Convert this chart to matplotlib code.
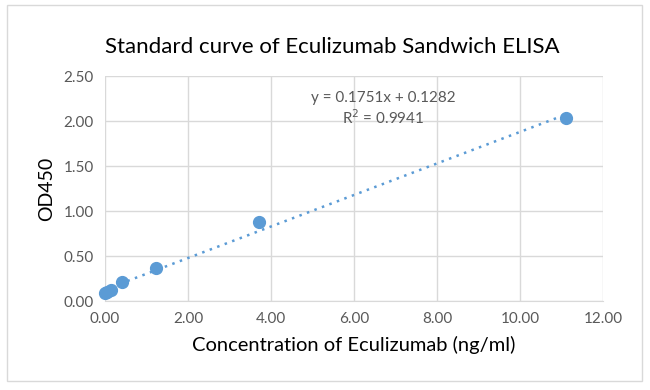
import matplotlib
matplotlib.use("Agg")
import matplotlib.pyplot as plt
from matplotlib.patches import Rectangle
import numpy as np

# standard curve data (3-fold dilutions)
conc = [11.11, 3.70, 1.23, 0.41, 0.137, 0.046, 0.0]
od450 = [2.03, 0.88, 0.37, 0.21, 0.12, 0.10, 0.09]
slope = 0.1751
intercept = 0.1282
r2 = 0.9941
xticks = [0, 2, 4, 6, 8, 10, 12]
yticks = [0, 0.5, 1.0, 1.5, 2.0, 2.5]

plt.rcParams['font.family'] = ['Lato', 'DejaVu Sans']
blue = '#5B9BD5'
grey = '#595959'

fig = plt.figure(figsize=(6.5, 3.9), dpi=100)
fig.patches.append(Rectangle((0.01, 0.022), 0.978, 0.966, transform=fig.transFigure,
                             fill=False, edgecolor='#d9d9d9', linewidth=1))
ax = fig.add_axes([0.1615, 0.228, 0.7662, 0.577])

xs = np.array([min(conc), max(conc)])
ax.plot(xs, slope * xs + intercept, linestyle=(0, (1, 2.2)), color=blue, linewidth=1.8, zorder=2)
ax.plot(conc, od450, 'o', color=blue, markersize=8.5, zorder=3, clip_on=False)

ax.set_xlim(0, 12)
ax.set_ylim(0, 2.5)
ax.set_xticks(xticks)
ax.set_yticks(yticks)
ax.set_xticklabels([f"{v:.2f}" for v in xticks])
ax.set_yticklabels([f"{v:.2f}" for v in yticks])
ax.tick_params(colors=grey, labelsize=11, length=0, pad=8)
ax.grid(True, color='#d9d9d9', linewidth=1)
ax.set_axisbelow(True)
for s in ['top', 'right', 'left']:
    ax.spines[s].set_visible(False)
ax.spines['bottom'].set_color('#d9d9d9')

ax.set_xlabel('Concentration of Eculizumab (ng/ml)', fontsize=14.5, color='black', labelpad=7)
ax.set_ylabel('OD450', fontsize=14, color='black', labelpad=6)
fig.text(0.511, 0.88, 'Standard curve of Eculizumab Sandwich ELISA', fontsize=16,
         color='black', ha='center', va='center')

ax.text(6.7, 2.13, f"y = {slope}x + {intercept}\nR$^2$ = {r2}", ha='center', va='center',
        fontsize=11, color=grey, linespacing=1.2)

fig.savefig('out.png', dpi=100)
